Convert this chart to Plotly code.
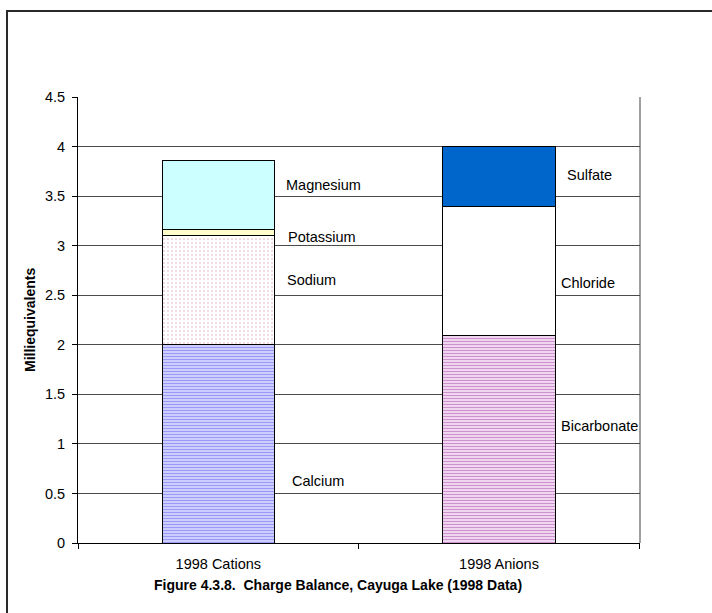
import plotly.graph_objects as go

# Charge balance data (milliequivalents)
categories = ["1998 Cations", "1998 Anions"]

cation_names = ["Calcium", "Sodium", "Potassium", "Magnesium"]
cation_values = [2.0, 1.1, 0.06, 0.7]

anion_names = ["Bicarbonate", "Chloride", "Sulfate"]
anion_values = [2.09, 1.31, 0.6]

y_ticks = [0, 0.5, 1, 1.5, 2, 2.5, 3, 3.5, 4, 4.5]

FONT = "Liberation Sans, Arial, sans-serif"
FS = 14.5

# fill style for each ion
styles = {
    "Calcium": dict(color="#d4d4ff", pattern=dict(shape="-", fgcolor="#5a5af0", bgcolor="#d8d8ff", size=3, solidity=0.45)),
    "Sodium": dict(color="white", pattern=dict(shape=".", fgcolor="#e0a0b4", bgcolor="white", size=4, solidity=0.2)),
    "Potassium": dict(color="#ffffcc"),
    "Magnesium": dict(color="#ccffff"),
    "Bicarbonate": dict(color="#eed4ee", pattern=dict(shape="-", fgcolor="#a848a8", bgcolor="#f2dcf2", size=3, solidity=0.4)),
    "Chloride": dict(color="white"),
    "Sulfate": dict(color="#0066cc"),
}

# label placement: (value on y axis, horizontal offset from bar centre in px)
label_pos = {
    "Calcium": (0.63, 72),
    "Sodium": (2.65, 67),
    "Potassium": (3.09, 68),
    "Magnesium": (3.61, 66),
    "Bicarbonate": (1.18, 60),
    "Chloride": (2.62, 60),
    "Sulfate": (3.71, 66),
}

fig = go.Figure()

def add_stack(cat, names, values):
    for name, val in zip(names, values):
        st = styles[name]
        marker = dict(color=st["color"], line=dict(color="black", width=1))
        if "pattern" in st:
            marker["pattern"] = st["pattern"]
        fig.add_trace(go.Bar(x=[cat], y=[val], name=name, marker=marker,
                             showlegend=False, hoverinfo="name+y"))
        ly, dx = label_pos[name]
        fig.add_annotation(x=cat, y=ly, xref="x", yref="y", text=name,
                           showarrow=False, xanchor="left", yanchor="middle",
                           xshift=dx, font=dict(family=FONT, size=FS, color="black"))

add_stack(categories[0], cation_names, cation_values)
add_stack(categories[1], anion_names, anion_values)

W, H = 712, 613
L, R, T, B = 78, 640, 97, 543  # plot-area pixel edges
pw, ph = R - L, B - T

def px_x(p):
    return (p - L) / pw

def px_y(p):
    return (B - p) / ph

fig.update_layout(
    width=W, height=H,
    margin=dict(l=L, r=W - R, t=T, b=H - B),
    paper_bgcolor="white", plot_bgcolor="white",
    barmode="stack", bargap=0.6,
    font=dict(family=FONT, size=FS, color="black"),
    xaxis=dict(categoryorder="array", categoryarray=categories,
               showline=True, linecolor="black", linewidth=1,
               ticks="outside", tickson="boundaries", ticklen=5,
               tickcolor="black", showgrid=False, ticklabelstandoff=8,
               tickfont=dict(family=FONT, size=FS)),
    yaxis=dict(range=[0, 4.5], tickvals=y_ticks,
               ticktext=[f"{v:g}" for v in y_ticks],
               showline=True, linecolor="black", linewidth=1,
               ticks="outside", ticklen=5, tickcolor="black",
               showgrid=True, gridcolor="#4a4a4a", gridwidth=1,
               ticklabelstandoff=4,
               zeroline=False, tickfont=dict(family=FONT, size=FS)),
    shapes=[
        # plot-area right border
        dict(type="line", xref="paper", yref="paper", x0=1, x1=1, y0=0, y1=1,
             line=dict(color="#a0a0a0", width=2), layer="below"),
        # chart frame
        dict(type="path", xref="paper", yref="paper",
             path=f"M {px_x(7)},{px_y(640)} L {px_x(7)},{px_y(11)} L {px_x(740)},{px_y(11)}",
             line=dict(color="#2a2a2a", width=2)),
    ],
)

# axis title and figure caption
fig.add_annotation(x=px_x(30), y=0.5, xref="paper", yref="paper",
                   text="<b>Milliequivalents</b>", textangle=-90, showarrow=False,
                   xanchor="center", yanchor="middle",
                   font=dict(family=FONT, size=14, color="black"))
fig.add_annotation(x=px_x(338), y=px_y(585), xref="paper", yref="paper",
                   text="<b>Figure 4.3.8.  Charge Balance, Cayuga Lake (1998 Data)</b>",
                   showarrow=False, xanchor="center", yanchor="middle",
                   font=dict(family=FONT, size=14, color="black"))

fig.write_html("out.html")
